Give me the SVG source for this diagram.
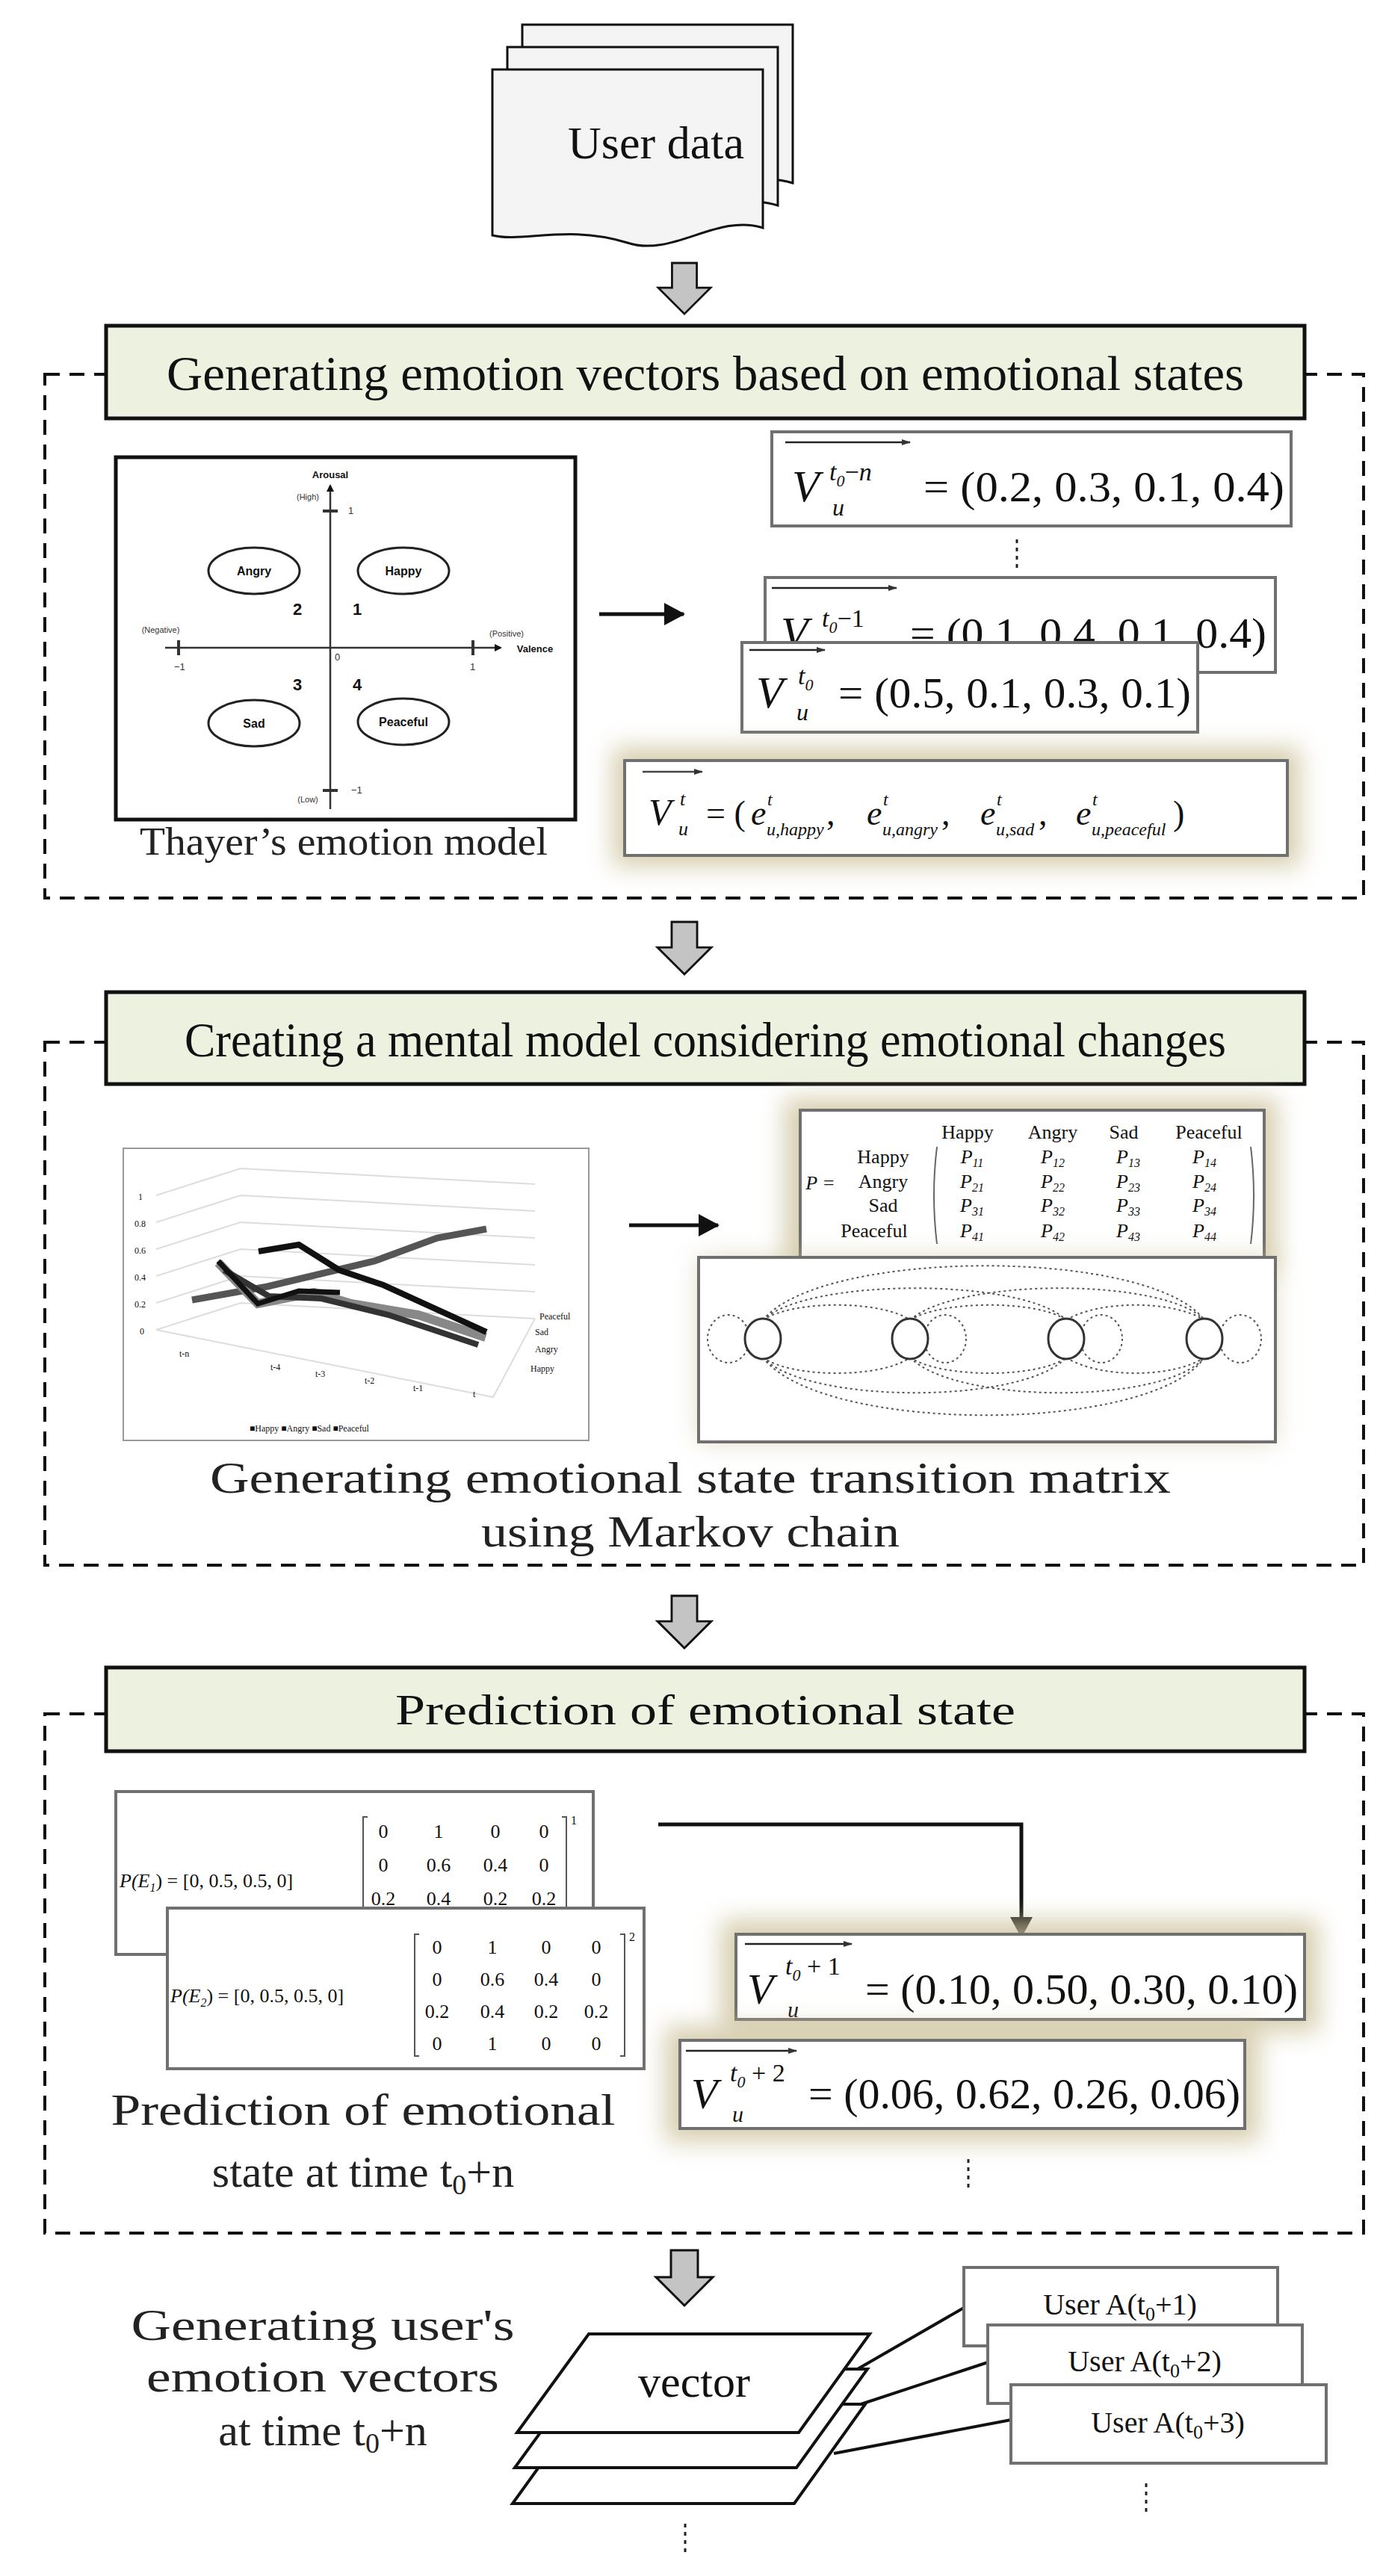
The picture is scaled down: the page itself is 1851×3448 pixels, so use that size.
<svg xmlns="http://www.w3.org/2000/svg" width="1851" height="3448" viewBox="0 0 1851 3448">
<defs>
<style>
text{font-family:"Liberation Serif","DejaVu Serif",serif;fill:#111}
.dash{fill:none;stroke:#111;stroke-width:4;stroke-dasharray:20,13}
.hdr{fill:#edf2e0;stroke:#111;stroke-width:5}
.ht{text-anchor:middle}
.vb{fill:#fff;stroke:#707070;stroke-width:4}
.it{font-style:italic}
.ga{fill:#c4c4c4;stroke:#111;stroke-width:3}
.cap{text-anchor:middle;fill:#222}
.mx{font-size:26px;text-anchor:middle;fill:#444}
.dot{stroke:#555;stroke-width:2;stroke-dasharray:3,4;fill:none}
.sm{font-size:13px;font-family:"Liberation Sans",sans-serif;fill:#333}
</style>
<filter id="glow" x="-20%" y="-50%" width="140%" height="200%"><feGaussianBlur stdDeviation="16"/></filter>
<marker id="ah" markerWidth="10" markerHeight="10" refX="8" refY="5" orient="auto" markerUnits="userSpaceOnUse"><path d="M0,0 L10,5 L0,10 z" fill="#111"/></marker>
<marker id="ahb" markerWidth="30" markerHeight="30" refX="26" refY="15" orient="auto" markerUnits="userSpaceOnUse"><path d="M0,0 L28,15 L0,30 z" fill="#111"/></marker>
<marker id="ahs" markerWidth="12" markerHeight="8" refX="11" refY="4" orient="auto" markerUnits="userSpaceOnUse"><path d="M0,0 L12,4 L0,8 z" fill="#333"/></marker>
<symbol id="garrow" viewBox="0 0 80 76" overflow="visible"><path class="ga" d="M22,0 H58 V36 H78 L40,74 L2,36 H22 Z"/></symbol>
</defs>

<g id="user-data">
<path d="M699,33 H1061 V245 C1000,225 940,275 880,260 C800,240 740,265 699,255 Z" fill="#f4f4f4" stroke="#111" stroke-width="3"/>
<path d="M679,63 H1041 V275 C980,255 920,305 860,290 C780,270 720,295 679,285 Z" fill="#f4f4f4" stroke="#111" stroke-width="3"/>
<path d="M659,93 H1021 V305 C960,285 900,345 840,325 C760,300 700,325 659,315 Z" fill="#f4f4f4" stroke="#111" stroke-width="3"/>
<text x="878" y="212" style="font-size:62px" text-anchor="middle">User data</text>
</g>

<g id="connectors">
<use href="#garrow" x="876" y="352" width="80" height="70"/>
<use href="#garrow" x="876" y="1234" width="80" height="72"/>
<use href="#garrow" x="876" y="2136" width="80" height="72"/>
<use href="#garrow" x="876" y="3012" width="80" height="76"/>
<line x1="802" y1="822" x2="915" y2="822" stroke="#111" stroke-width="5" marker-end="url(#ahb)"/>
<line x1="842" y1="1640" x2="961" y2="1640" stroke="#111" stroke-width="5" marker-end="url(#ahb)"/>
<polyline points="881,2442 1367,2442 1367,2592" fill="none" stroke="#111" stroke-width="5" marker-end="url(#ahb)"/>
<line x1="1146" y1="3172" x2="1290" y2="3089" stroke="#111" stroke-width="4"/>
<line x1="1134" y1="3224" x2="1322" y2="3162" stroke="#111" stroke-width="4"/>
<line x1="1116" y1="3284" x2="1353" y2="3239" stroke="#111" stroke-width="4"/>
</g>

<g id="section1">
<rect class="dash" x="60" y="501" width="1765" height="701"/>
<rect class="hdr" x="142" y="436" width="1604" height="124"/>
<text class="ht" x="944" y="522" style="font-size:66px" textLength="1442" lengthAdjust="spacingAndGlyphs">Generating emotion vectors based on emotional states</text>
</g>

<g id="thayer">
<rect x="155" y="612" width="615" height="485" fill="#fff" stroke="#111" stroke-width="5"/>
<line x1="442" y1="1083" x2="442" y2="650" stroke="#333" stroke-width="2.5" marker-end="url(#ah)"/>
<line x1="221" y1="867" x2="670" y2="867" stroke="#333" stroke-width="2.5" marker-end="url(#ah)"/>
<line x1="432" y1="684" x2="452" y2="684" stroke="#333" stroke-width="4"/>
<line x1="432" y1="1058" x2="452" y2="1058" stroke="#333" stroke-width="4"/>
<line x1="239" y1="857" x2="239" y2="877" stroke="#333" stroke-width="4"/>
<line x1="633" y1="857" x2="633" y2="877" stroke="#333" stroke-width="4"/>
<ellipse cx="340" cy="764" rx="61" ry="31" fill="#fff" stroke="#222" stroke-width="3"/>
<ellipse cx="540" cy="764" rx="61" ry="31" fill="#fff" stroke="#222" stroke-width="3"/>
<ellipse cx="340" cy="968" rx="61" ry="31" fill="#fff" stroke="#222" stroke-width="3"/>
<ellipse cx="540" cy="966" rx="61" ry="31" fill="#fff" stroke="#222" stroke-width="3"/>
<g font-weight="bold" font-size="16" text-anchor="middle">
<text x="340" y="770" style="font-family:'Liberation Sans',sans-serif">Angry</text>
<text x="540" y="770" style="font-family:'Liberation Sans',sans-serif">Happy</text>
<text x="340" y="974" style="font-family:'Liberation Sans',sans-serif">Sad</text>
<text x="540" y="972" style="font-family:'Liberation Sans',sans-serif">Peaceful</text>
<text x="442" y="640" font-size="13" style="font-family:'Liberation Sans',sans-serif">Arousal</text>
<text x="716" y="873" font-size="13" style="font-family:'Liberation Sans',sans-serif">Valence</text>
<text x="398" y="823" font-size="22" style="font-family:'Liberation Sans',sans-serif">2</text>
<text x="478" y="823" font-size="22" style="font-family:'Liberation Sans',sans-serif">1</text>
<text x="398" y="924" font-size="22" style="font-family:'Liberation Sans',sans-serif">3</text>
<text x="478" y="924" font-size="22" style="font-family:'Liberation Sans',sans-serif">4</text>
</g>
<text class="sm" x="412" y="669" text-anchor="middle" style="font-size:11px">(High)</text>
<text class="sm" x="412" y="1074" text-anchor="middle" style="font-size:11px">(Low)</text>
<text class="sm" x="215" y="847" text-anchor="middle" style="font-size:11px">(Negative)</text>
<text class="sm" x="678" y="852" text-anchor="middle" style="font-size:11px">(Positive)</text>
<text class="sm" x="466" y="688">1</text>
<text class="sm" x="470" y="1062">−1</text>
<text class="sm" x="233" y="897">−1</text>
<text class="sm" x="629" y="897">1</text>
<text class="sm" x="448" y="884">0</text>
<text class="cap" x="460" y="1144" style="font-size:52px" textLength="546" lengthAdjust="spacingAndGlyphs">Thayer’s emotion model</text>
</g>

<g id="vec-tn">
<rect class="vb" x="1033" y="578" width="695" height="126"/>
<line x1="1051" y1="592" x2="1218" y2="592" stroke="#222" stroke-width="2.5" marker-end="url(#ahs)"/>
<text class="it" x="1060" y="671" font-size="60">V</text>
<text class="it" x="1110" y="643" font-size="34">t<tspan font-size="22" dy="8">0</tspan><tspan dy="-8" font-style="normal">−</tspan>n</text>
<text class="it" x="1114" y="690" font-size="32">u</text>
<text x="1236" y="671" font-size="58" textLength="483" lengthAdjust="spacingAndGlyphs">= (0.2, 0.3, 0.1, 0.4)</text>
</g>
<line x1="1361" y1="722" x2="1361" y2="766" stroke="#222" stroke-width="3" stroke-dasharray="5,6"/>
<g id="vec-t1">
<rect class="vb" x="1024" y="773" width="683" height="127"/>
<line x1="1033" y1="787" x2="1200" y2="787" stroke="#222" stroke-width="2.5" marker-end="url(#ahs)"/>
<text class="it" x="1045" y="867" font-size="60">V</text>
<text class="it" x="1100" y="839" font-size="34">t<tspan font-size="22" dy="8">0</tspan><tspan dy="-8" font-style="normal">−</tspan><tspan font-style="normal">1</tspan></text>
<text x="1218" y="867" font-size="58" textLength="477" lengthAdjust="spacingAndGlyphs">= (0.1, 0.4, 0.1, 0.4)</text>
</g>
<g id="vec-t0">
<rect class="vb" x="993" y="860" width="610" height="120"/>
<line x1="1003" y1="870" x2="1104" y2="870" stroke="#222" stroke-width="2.5" marker-end="url(#ahs)"/>
<text class="it" x="1012" y="947" font-size="60">V</text>
<text class="it" x="1068" y="916" font-size="34">t<tspan font-size="22" dy="8">0</tspan></text>
<text class="it" x="1066" y="964" font-size="32">u</text>
<text x="1122" y="947" font-size="58" textLength="472" lengthAdjust="spacingAndGlyphs">= (0.5, 0.1, 0.3, 0.1)</text>
</g>
<g id="vec-formula">
<rect x="820" y="1000" width="920" height="160" fill="#cdc29c" filter="url(#glow)" opacity="0.8"/>
<rect class="vb" x="836" y="1018" width="887" height="127"/>
<line x1="860" y1="1033" x2="940" y2="1033" stroke="#444" stroke-width="2.5" marker-end="url(#ahs)"/>
<g fill="#444">
<text class="it" x="868" y="1104" font-size="50">V</text>
<text class="it" x="910" y="1078" font-size="26">t</text>
<text class="it" x="908" y="1118" font-size="26">u</text>
<text x="945" y="1104" font-size="46">= (</text>
<text class="it" x="1005" y="1104" font-size="46">e</text><text class="it" x="1027" y="1078" font-size="24">t</text><text class="it" x="1026" y="1118" font-size="24">u,happy</text><text x="1106" y="1104" font-size="46">,</text>
<text class="it" x="1160" y="1104" font-size="46">e</text><text class="it" x="1182" y="1078" font-size="24">t</text><text class="it" x="1181" y="1118" font-size="24">u,angry</text><text x="1260" y="1104" font-size="46">,</text>
<text class="it" x="1312" y="1104" font-size="46">e</text><text class="it" x="1334" y="1078" font-size="24">t</text><text class="it" x="1333" y="1118" font-size="24">u,sad</text><text x="1390" y="1104" font-size="46">,</text>
<text class="it" x="1440" y="1104" font-size="46">e</text><text class="it" x="1462" y="1078" font-size="24">t</text><text class="it" x="1461" y="1118" font-size="24">u,peaceful</text><text x="1570" y="1104" font-size="46">)</text>
</g>
</g>

<g id="section2">
<rect class="dash" x="60" y="1395" width="1765" height="700"/>
<rect class="hdr" x="142" y="1328" width="1604" height="123"/>
<text class="ht" x="944" y="1414" style="font-size:66px" textLength="1394" lengthAdjust="spacingAndGlyphs">Creating a mental model considering emotional changes</text>
</g>

<g id="chart">
<rect x="165" y="1537" width="623" height="391" fill="#fff" stroke="#999" stroke-width="2"/>
<g stroke="#ddd" stroke-width="2" fill="none">
<polyline points="209,1600 322,1564 716,1585"/>
<polyline points="209,1636 322,1600 716,1621"/>
<polyline points="209,1672 322,1636 716,1657"/>
<polyline points="209,1708 322,1672 716,1693"/>
<polyline points="209,1744 322,1708 716,1729"/>
<polyline points="209,1780 322,1744 716,1765"/>
<polyline points="209,1780 660,1870 716,1765"/>
</g>
<g class="sm" style="font-size:12px">
<text x="185" y="1606">1</text><text x="180" y="1642">0.8</text><text x="180" y="1678">0.6</text><text x="180" y="1714">0.4</text><text x="180" y="1750">0.2</text><text x="187" y="1786">0</text>
<text x="240" y="1816">t-n</text><text x="362" y="1834">t-4</text><text x="422" y="1843">t-3</text><text x="488" y="1852">t-2</text><text x="553" y="1862">t-1</text><text x="633" y="1870">t</text>
<text x="722" y="1766">Peaceful</text><text x="716" y="1787">Sad</text><text x="716" y="1810">Angry</text><text x="710" y="1836">Happy</text>
<text x="334" y="1916">■Happy  ■Angry  ■Sad  ■Peaceful</text>
</g>
<polyline points="257,1740 358,1722 501,1688 585,1657 651,1645" fill="none" stroke="#555" stroke-width="9"/>
<polyline points="292,1690 345,1745 420,1730 470,1745 560,1760 650,1790" fill="none" stroke="#888" stroke-width="12"/>
<polyline points="300,1700 360,1735 430,1738 520,1760 640,1800" fill="none" stroke="#333" stroke-width="8"/>
<polyline points="346,1675 400,1666 454,1700 513,1720 651,1783" fill="none" stroke="#111" stroke-width="8"/>
<polyline points="292,1688 345,1745 400,1728 455,1730" fill="none" stroke="#111" stroke-width="7"/>
</g>

<g id="matrix-p">
<rect x="1050" y="1470" width="660" height="230" fill="#cdc29c" filter="url(#glow)" opacity="0.8"/>
<rect class="vb" x="1071" y="1486" width="621" height="198"/>
<g class="mx">
<text x="1295" y="1524">Happy</text><text x="1409" y="1524">Angry</text><text x="1504" y="1524">Sad</text><text x="1618" y="1524">Peaceful</text>
<text x="1182" y="1557">Happy</text><text x="1182" y="1590">Angry</text><text x="1182" y="1622">Sad</text><text x="1170" y="1656">Peaceful</text>
<text x="1098" y="1592" class="it">P =</text>
<g class="it">
<text x="1301" y="1557">P<tspan font-size="16" dy="5">11</tspan></text><text x="1409" y="1557">P<tspan font-size="16" dy="5">12</tspan></text><text x="1510" y="1557">P<tspan font-size="16" dy="5">13</tspan></text><text x="1612" y="1557">P<tspan font-size="16" dy="5">14</tspan></text>
<text x="1301" y="1590">P<tspan font-size="16" dy="5">21</tspan></text><text x="1409" y="1590">P<tspan font-size="16" dy="5">22</tspan></text><text x="1510" y="1590">P<tspan font-size="16" dy="5">23</tspan></text><text x="1612" y="1590">P<tspan font-size="16" dy="5">24</tspan></text>
<text x="1301" y="1622">P<tspan font-size="16" dy="5">31</tspan></text><text x="1409" y="1622">P<tspan font-size="16" dy="5">32</tspan></text><text x="1510" y="1622">P<tspan font-size="16" dy="5">33</tspan></text><text x="1612" y="1622">P<tspan font-size="16" dy="5">34</tspan></text>
<text x="1301" y="1656">P<tspan font-size="16" dy="5">41</tspan></text><text x="1409" y="1656">P<tspan font-size="16" dy="5">42</tspan></text><text x="1510" y="1656">P<tspan font-size="16" dy="5">43</tspan></text><text x="1612" y="1656">P<tspan font-size="16" dy="5">44</tspan></text>
</g>
</g>
<path d="M1254,1535 Q1246,1600 1254,1665" fill="none" stroke="#666" stroke-width="2"/>
<path d="M1674,1535 Q1682,1600 1674,1665" fill="none" stroke="#666" stroke-width="2"/>
</g>

<g id="markov">
<rect x="935" y="1683" width="772" height="247" fill="#cdc29c" filter="url(#glow)" opacity="0.6"/>
<rect class="vb" x="935" y="1683" width="772" height="247"/>
<path class="dot" d="M1021,1767 C1100,1670 1540,1670 1612,1767"/>
<path class="dot" d="M1021,1767 C1080,1710 1370,1710 1427,1767"/>
<path class="dot" d="M1218,1767 C1280,1710 1560,1710 1612,1767"/>
<path class="dot" d="M1021,1767 C1060,1740 1180,1740 1218,1767"/>
<path class="dot" d="M1218,1767 C1260,1740 1390,1740 1427,1767"/>
<path class="dot" d="M1427,1767 C1470,1740 1570,1740 1612,1767"/>
<path class="dot" d="M1021,1817 C1100,1920 1540,1920 1612,1817"/>
<path class="dot" d="M1021,1817 C1080,1880 1370,1880 1427,1817"/>
<path class="dot" d="M1218,1817 C1280,1880 1560,1880 1612,1817"/>
<path class="dot" d="M1021,1817 C1060,1845 1180,1845 1218,1817"/>
<path class="dot" d="M1218,1817 C1260,1845 1390,1845 1427,1817"/>
<path class="dot" d="M1427,1817 C1470,1845 1570,1845 1612,1817"/>
<ellipse class="dot" cx="975" cy="1792" rx="28" ry="32"/>
<ellipse class="dot" cx="1265" cy="1792" rx="28" ry="32"/>
<ellipse class="dot" cx="1474" cy="1792" rx="28" ry="32"/>
<ellipse class="dot" cx="1660" cy="1792" rx="28" ry="32"/>
<g fill="#fff" stroke="#333" stroke-width="3">
<ellipse cx="1021" cy="1792" rx="24" ry="27"/>
<ellipse cx="1218" cy="1792" rx="24" ry="27"/>
<ellipse cx="1427" cy="1792" rx="24" ry="27"/>
<ellipse cx="1612" cy="1792" rx="24" ry="27"/>
</g>
</g>
<text class="cap" x="924" y="1998" style="font-size:60px" textLength="1286" lengthAdjust="spacingAndGlyphs">Generating emotional state transition matrix</text>
<text class="cap" x="924" y="2070" style="font-size:60px" textLength="560" lengthAdjust="spacingAndGlyphs">using Markov chain</text>

<g id="section3">
<rect class="dash" x="60" y="2294" width="1765" height="695"/>
<rect class="hdr" x="142" y="2232" width="1604" height="112"/>
<text class="ht" x="944" y="2308" style="font-size:58px" textLength="830" lengthAdjust="spacingAndGlyphs">Prediction of emotional state</text>
</g>

<g id="pe1">
<rect class="vb" x="155" y="2398" width="639" height="218"/>
<text class="it" x="160" y="2526" font-size="26" fill="#444">P(E<tspan font-size="16" dy="6">1</tspan><tspan dy="-6" font-style="normal">) = [0, 0.5, 0.5, 0]</tspan></text>
<g class="mx"><text x="513" y="2460">0</text><text x="587" y="2460">1</text><text x="663" y="2460">0</text><text x="728" y="2460">0</text>
<text x="513" y="2505">0</text><text x="587" y="2505">0.6</text><text x="663" y="2505">0.4</text><text x="728" y="2505">0</text>
<text x="513" y="2550">0.2</text><text x="587" y="2550">0.4</text><text x="663" y="2550">0.2</text><text x="728" y="2550">0.2</text></g>
<path d="M492,2432 H486 V2560" fill="none" stroke="#555" stroke-width="2"/>
<path d="M752,2432 H758 V2560" fill="none" stroke="#555" stroke-width="2"/>
<text x="764" y="2442" font-size="16" fill="#444">1</text>
</g>
<g id="pe2">
<rect class="vb" x="224" y="2554" width="638" height="215"/>
<text class="it" x="228" y="2680" font-size="26" fill="#444">P(E<tspan font-size="16" dy="6">2</tspan><tspan dy="-6" font-style="normal">) = [0, 0.5, 0.5, 0]</tspan></text>
<g class="mx"><text x="585" y="2615">0</text><text x="659" y="2615">1</text><text x="731" y="2615">0</text><text x="798" y="2615">0</text>
<text x="585" y="2658">0</text><text x="659" y="2658">0.6</text><text x="731" y="2658">0.4</text><text x="798" y="2658">0</text>
<text x="585" y="2701">0.2</text><text x="659" y="2701">0.4</text><text x="731" y="2701">0.2</text><text x="798" y="2701">0.2</text>
<text x="585" y="2744">0</text><text x="659" y="2744">1</text><text x="731" y="2744">0</text><text x="798" y="2744">0</text></g>
<path d="M561,2589 H555 V2752 H561" fill="none" stroke="#555" stroke-width="2"/>
<path d="M830,2589 H836 V2752 H830" fill="none" stroke="#555" stroke-width="2"/>
<text x="842" y="2598" font-size="16" fill="#444">2</text>
</g>
<text class="cap" x="486" y="2844" style="font-size:60px" textLength="675" lengthAdjust="spacingAndGlyphs">Prediction of emotional</text>
<text class="cap" x="486" y="2927" style="font-size:60px">state at time t<tspan style="font-size:38px" dy="10">0</tspan><tspan dy="-10">+n</tspan></text>

<g id="vec-p1">
<rect x="965" y="2570" width="800" height="150" fill="#cdc29c" filter="url(#glow)" opacity="0.8"/>
<rect class="vb" x="985" y="2589" width="761" height="114"/>
<line x1="997" y1="2602" x2="1140" y2="2602" stroke="#222" stroke-width="2.5" marker-end="url(#ahs)"/>
<text class="it" x="1000" y="2682" font-size="58">V</text>
<text class="it" x="1051" y="2643" font-size="34">t<tspan font-size="22" dy="8">0</tspan><tspan dy="-8" font-style="normal"> + 1</tspan></text>
<text class="it" x="1054" y="2700" font-size="30">u</text>
<text x="1158" y="2682" font-size="58" textLength="579" lengthAdjust="spacingAndGlyphs">= (0.10, 0.50, 0.30, 0.10)</text>
</g>
<g id="vec-p2">
<rect x="890" y="2712" width="795" height="155" fill="#cdc29c" filter="url(#glow)" opacity="0.8"/>
<rect class="vb" x="910" y="2731" width="756" height="118"/>
<line x1="918" y1="2745" x2="1066" y2="2745" stroke="#222" stroke-width="2.5" marker-end="url(#ahs)"/>
<text class="it" x="925" y="2822" font-size="58">V</text>
<text class="it" x="977" y="2786" font-size="34">t<tspan font-size="22" dy="8">0</tspan><tspan dy="-8" font-style="normal"> + 2</tspan></text>
<text class="it" x="980" y="2840" font-size="30">u</text>
<text x="1082" y="2822" font-size="58" textLength="578" lengthAdjust="spacingAndGlyphs">= (0.06, 0.62, 0.26, 0.06)</text>
</g>
<line x1="1296" y1="2890" x2="1296" y2="2932" stroke="#222" stroke-width="3" stroke-dasharray="5,6"/>

<text class="cap" x="432" y="3132" style="font-size:60px" textLength="513" lengthAdjust="spacingAndGlyphs">Generating user's</text>
<text class="cap" x="432" y="3201" style="font-size:60px" textLength="472" lengthAdjust="spacingAndGlyphs">emotion vectors</text>
<text class="cap" x="432" y="3273" style="font-size:60px">at time t<tspan style="font-size:38px" dy="10">0</tspan><tspan dy="-10">+n</tspan></text>

<g id="vec-stack">
<path d="M782,3218 H1158 L1063,3351 H686 Z" fill="#fff" stroke="#111" stroke-width="4"/>
<path d="M785,3171 H1161 L1066,3303 H689 Z" fill="#fff" stroke="#111" stroke-width="4"/>
<path d="M788,3124 H1164 L1069,3256 H692 Z" fill="#fff" stroke="#111" stroke-width="4"/>
<text x="929" y="3208" style="font-size:60px" text-anchor="middle">vector</text>
</g>
<g id="userA1"><rect class="vb" x="1290" y="3035" width="420" height="105" stroke-width="3"/><text x="1499" y="3098" font-size="40" text-anchor="middle" fill="#333">User A(t<tspan font-size="26" dy="8">0</tspan><tspan dy="-8">+1)</tspan></text></g>
<g id="userA2"><rect class="vb" x="1322" y="3112" width="421" height="105" stroke-width="3"/><text x="1532" y="3174" font-size="40" text-anchor="middle" fill="#333">User A(t<tspan font-size="26" dy="8">0</tspan><tspan dy="-8">+2)</tspan></text></g>
<g id="userA3"><rect class="vb" x="1353" y="3192" width="422" height="105" stroke-width="3"/><text x="1563" y="3256" font-size="40" text-anchor="middle" fill="#333">User A(t<tspan font-size="26" dy="8">0</tspan><tspan dy="-8">+3)</tspan></text></g>
<line x1="1534" y1="3324" x2="1534" y2="3366" stroke="#222" stroke-width="3" stroke-dasharray="5,6"/>
<line x1="917" y1="3378" x2="917" y2="3420" stroke="#222" stroke-width="3" stroke-dasharray="5,6"/>
</svg>
